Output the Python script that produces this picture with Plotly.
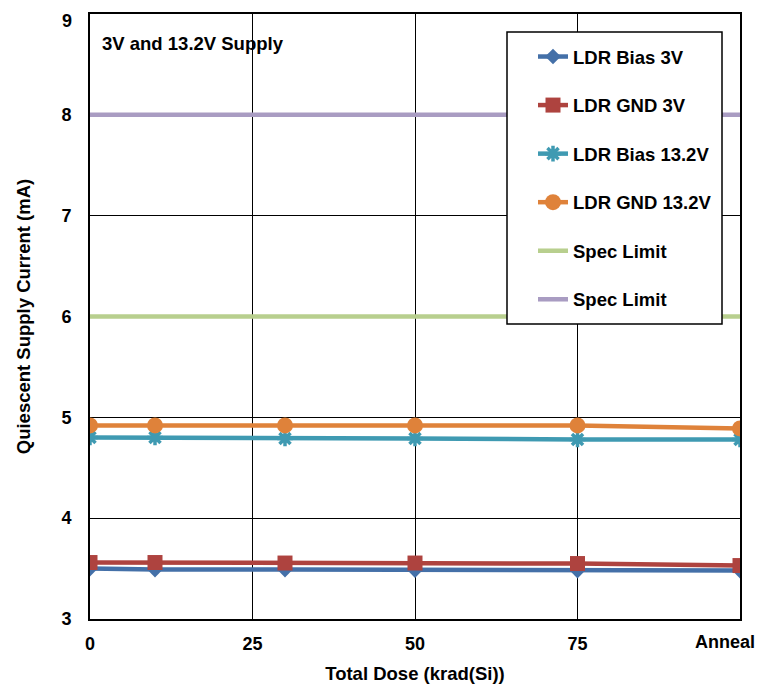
import plotly.graph_objects as go

dose = [0, 10, 30, 50, 75, 100]
x_tick_vals = [0, 25, 50, 75, 100]
x_tick_text = ["0", "25", "50", "75", ""]
anneal_label = "Anneal"
y_tick_vals = [3, 4, 5, 6, 7, 8, 9]
y_tick_text = ["3", "4", "5", "6", "7", "8", ""]
y_top_label = "9"

ldr_bias_3v = [3.50, 3.49, 3.49, 3.485, 3.48, 3.48]
ldr_gnd_3v = [3.56, 3.56, 3.555, 3.555, 3.55, 3.53]
ldr_bias_13v = [4.80, 4.80, 4.79, 4.79, 4.78, 4.78]
ldr_gnd_13v = [4.92, 4.92, 4.92, 4.92, 4.92, 4.89]
spec_x = [0, 100]
spec_low = [6, 6]
spec_high = [8, 8]

FONT = "Liberation Sans, Arial, sans-serif"
TXT = 18.5
TICK = 18

# page body has an 8px margin; figure is sized so the plot lands where it should
W, H = 755, 676
L, R, T, B = 82, 23, 6, 65
PW, PH = W - L - R, H - T - B


def px(xp):  # page x -> paper
    return (xp - 8 - L) / PW


def py(yp):  # page y -> paper
    return (H - B - (yp - 8)) / PH


fig = go.Figure()

series = [
    ("LDR Bias 3V", ldr_bias_3v, "#4470A8", "diamond", 12),
    ("LDR GND 3V", ldr_gnd_3v, "#AE433F", "square", 15),
    ("LDR Bias 13.2V", ldr_bias_13v, "#3F9AB2", "asterisk-open", 13),
    ("LDR GND 13.2V", ldr_gnd_13v, "#DF823A", "circle", 16),
]
for i, (name, y, color, sym, size) in enumerate(series):
    marker = dict(symbol=sym, size=size, color=color)
    if sym == "asterisk-open":
        marker["line"] = dict(color=color, width=3.5)
    fig.add_trace(go.Scatter(
        x=dose, y=y, name=name, mode="lines+markers",
        line=dict(color=color, width=4.5), marker=marker,
        legendgroup=f"g{i}",
    ))

fig.add_trace(go.Scatter(x=spec_x, y=spec_low, name="Spec Limit", mode="lines",
                         line=dict(color="#B8CF8E", width=4.5), legendgroup="g4"))
fig.add_trace(go.Scatter(x=spec_x, y=spec_high, name="Spec Limit", mode="lines",
                         line=dict(color="#A99CC2", width=4.5), legendgroup="g5"))

# legend frame
fig.add_shape(type="rect", xref="paper", yref="paper",
              x0=px(507), x1=px(722), y0=py(324), y1=py(32),
              fillcolor="white", line=dict(color="black", width=1.5), layer="above")

fig.add_annotation(x=px(100), y=py(43), xref="paper", yref="paper",
                   text="3V and 13.2V Supply", showarrow=False,
                   xanchor="left", yanchor="middle",
                   font=dict(family=FONT, size=TXT, color="black", weight="bold"))

fig.add_annotation(x=px(757), y=py(641.5), xref="paper", yref="paper",
                   text=anneal_label, showarrow=False,
                   xanchor="right", yanchor="middle",
                   font=dict(family=FONT, size=TICK, color="black", weight="bold"))

# top y label, kept fully inside the page
fig.add_annotation(x=px(74), y=py(8.5), xref="paper", yref="paper",
                   text=y_top_label, showarrow=False,
                   xanchor="right", yanchor="top",
                   font=dict(family=FONT, size=TICK, color="black", weight="bold"))

fig.update_layout(
    width=W, height=H,
    margin=dict(l=L, r=R, t=T, b=B, autoexpand=False),
    paper_bgcolor="white", plot_bgcolor="white",
    font=dict(family=FONT, size=TXT, color="black", weight="bold"),
    showlegend=True,
    legend=dict(x=px(533), y=py(38), xanchor="left", yanchor="top",
                bgcolor="rgba(0,0,0,0)", borderwidth=0,
                tracegroupgap=21.5, traceorder="grouped",
                font=dict(family=FONT, size=TXT, color="black", weight="bold")),
    xaxis=dict(range=[0, 100], tickvals=x_tick_vals, ticktext=x_tick_text,
               showgrid=True, gridcolor="black", gridwidth=1.3,
               showline=True, linecolor="black", linewidth=2, mirror=True,
               ticks="", zeroline=False, automargin=False,
               ticklabelstandoff=7, ticklabeloverflow="allow",
               tickfont=dict(family=FONT, size=TICK, color="black", weight="bold"),
               title=dict(text="Total Dose (krad(Si))", standoff=14,
                          font=dict(family=FONT, size=TXT, color="black", weight="bold"))),
    yaxis=dict(range=[3, 9], tickvals=y_tick_vals, ticktext=y_tick_text,
               showgrid=True, gridcolor="black", gridwidth=1.3,
               showline=True, linecolor="black", linewidth=2, mirror=True,
               ticks="", zeroline=False, automargin=False,
               ticklabelstandoff=13, ticklabeloverflow="allow",
               tickfont=dict(family=FONT, size=TICK, color="black", weight="bold"),
               title=dict(text="Quiescent Supply Current (mA)", standoff=26,
                          font=dict(family=FONT, size=TXT, color="black", weight="bold"))),
)

fig.write_html("out.html")
